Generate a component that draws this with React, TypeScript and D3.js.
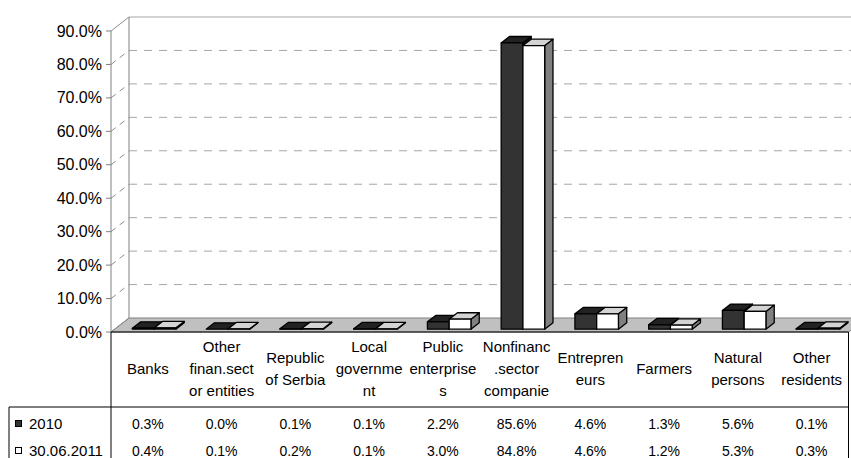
import React, { useRef, useEffect } from "react";
import { select, scaleLinear, scaleBand, range } from "d3";

const categories = [
  ["Banks"],
  ["Other", "finan.sect", "or entities"],
  ["Republic", "of Serbia"],
  ["Local", "governme", "nt"],
  ["Public", "enterprise", "s"],
  ["Nonfinanc", ".sector", "companie"],
  ["Entrepren", "eurs"],
  ["Farmers"],
  ["Natural", "persons"],
  ["Other", "residents"],
];
const series2010 = [0.3, 0.0, 0.1, 0.1, 2.2, 85.6, 4.6, 1.3, 5.6, 0.1];
const series2011 = [0.4, 0.1, 0.2, 0.1, 3.0, 84.8, 4.6, 1.2, 5.3, 0.3];
const seriesNames = ["2010", "30.06.2011"];
const yTicks = [0, 10, 20, 30, 40, 50, 60, 70, 80, 90];

const FONT = "'Liberation Sans', Arial, sans-serif";

function App() {
  const svgRef = useRef(null);

  useEffect(() => {
    const svg = select(svgRef.current);
    svg.selectAll("*").remove();

    const left = 111;
    const right = 848.5;
    const depthX = 18;
    const depthY = -14;

    const y = scaleLinear().domain([0, 90]).range([332, 31]);
    const x = scaleBand()
      .domain(range(categories.length))
      .range([left, right]);

    // back wall left edge
    svg.append("line")
      .attr("x1", left + depthX).attr("x2", left + depthX)
      .attr("y1", y(90) + depthY).attr("y2", y(0) + depthY)
      .attr("stroke", "#808080");

    // floor
    svg.append("polygon")
      .attr("points", [
        [left, y(0)],
        [left + depthX, y(0) + depthY],
        [right + depthX, y(0) + depthY],
        [right, y(0)],
      ].map((p) => p.join(",")).join(" "))
      .attr("fill", "#c0c0c0")
      .attr("stroke", "#808080");

    // gridlines on back wall and side wall
    yTicks.forEach((t) => {
      const yy = y(t);
      const solid = t === 0 || t === 90;
      if (t > 0) {
        svg.append("line")
          .attr("x1", left + depthX).attr("x2", right + depthX)
          .attr("y1", yy + depthY).attr("y2", yy + depthY)
          .attr("stroke", "#a6a6a6")
          .attr("stroke-width", 1)
          .attr("stroke-dasharray", solid ? null : "8,7");
      }
      svg.append("line")
        .attr("x1", left).attr("x2", left + depthX)
        .attr("y1", yy).attr("y2", yy + depthY)
        .attr("stroke", "#8c8c8c")
        .attr("stroke-dasharray", solid ? null : "6,5");
      svg.append("line")
        .attr("x1", left - 5).attr("x2", left)
        .attr("y1", yy).attr("y2", yy)
        .attr("stroke", "#808080");
      svg.append("text")
        .attr("x", 102).attr("y", yy)
        .attr("dy", "0.35em")
        .attr("text-anchor", "end")
        .attr("font-family", FONT)
        .attr("font-size", 16)
        .attr("fill", "#000")
        .text(t.toFixed(1) + "%");
    });

    // front axis
    svg.append("line")
      .attr("x1", left).attr("x2", left)
      .attr("y1", y(90)).attr("y2", y(0))
      .attr("stroke", "#808080");

    // bars
    const t1 = 0.2;
    const bdx = 8.3;
    const bdy = -6.4;
    const barW = x.bandwidth() * 0.295;
    const styles = [
      { front: "#333333", top: "#222222", side: "#1a1a1a" },
      { front: "#ffffff", top: "#d4d4d4", side: "#808080" },
    ];
    const drawBox = (x0, v, st) => {
      const yb = y(0) + depthY * t1;
      const yt = y(v) + depthY * t1;
      const g = svg.append("g")
        .attr("stroke", "#000")
        .attr("stroke-width", 1.3)
        .attr("stroke-linejoin", "round");
      g.append("polygon")
        .attr("points", [
          [x0 + barW, yt], [x0 + barW + bdx, yt + bdy],
          [x0 + barW + bdx, yb + bdy], [x0 + barW, yb],
        ].map((p) => p.join(",")).join(" "))
        .attr("fill", st.side);
      g.append("polygon")
        .attr("points", [
          [x0, yt], [x0 + barW, yt],
          [x0 + barW + bdx, yt + bdy], [x0 + bdx, yt + bdy],
        ].map((p) => p.join(",")).join(" "))
        .attr("fill", st.top);
      g.append("rect")
        .attr("x", x0).attr("y", yt)
        .attr("width", barW).attr("height", Math.max(0, yb - yt))
        .attr("fill", st.front);
    };
    categories.forEach((c, i) => {
      const center = x(i) + x.bandwidth() / 2;
      const start = center - barW + 6.3;
      drawBox(start, series2010[i], styles[0]);
      drawBox(start + barW, series2011[i], styles[1]);
    });

    // data table
    const tableTop = y(0);
    const rowLine = 407;
    const bottom = 470;
    const tbl = svg.append("g").attr("stroke", "#000").attr("stroke-width", 1);
    tbl.append("line").attr("x1", left).attr("x2", right).attr("y1", tableTop).attr("y2", tableTop);
    tbl.append("line").attr("x1", 9).attr("x2", right).attr("y1", rowLine).attr("y2", rowLine);
    tbl.append("line").attr("x1", left).attr("x2", left).attr("y1", tableTop).attr("y2", bottom);
    tbl.append("line").attr("x1", right).attr("x2", right).attr("y1", tableTop).attr("y2", bottom);
    tbl.append("line").attr("x1", 9).attr("x2", 9).attr("y1", rowLine).attr("y2", bottom);

    categories.forEach((lines, i) => {
      const cx = x(i) + x.bandwidth() / 2;
      const lh = 22;
      const y0 = 369 - ((lines.length - 1) * lh) / 2;
      const txt = svg.append("text")
        .attr("text-anchor", "middle")
        .attr("font-family", FONT)
        .attr("font-size", 15)
        .attr("fill", "#000");
      lines.forEach((l, k) => {
        txt.append("tspan")
          .attr("x", cx)
          .attr("y", y0 + k * lh)
          .attr("dy", "0.35em")
          .text(l);
      });
    });

    const rowsY = [424, 451];
    [series2010, series2011].forEach((vals, r) => {
      vals.forEach((v, i) => {
        svg.append("text")
          .attr("x", x(i) + x.bandwidth() / 2)
          .attr("y", rowsY[r])
          .attr("dy", "0.35em")
          .attr("text-anchor", "middle")
          .attr("font-family", FONT)
          .attr("font-size", 14)
          .attr("fill", "#000")
          .text(v.toFixed(1) + "%");
      });
      svg.append("rect")
        .attr("x", 15.5).attr("y", rowsY[r] - 3.5)
        .attr("width", 6).attr("height", 6)
        .attr("fill", r === 0 ? "#333333" : "#ffffff")
        .attr("stroke", "#000");
      svg.append("text")
        .attr("x", 29)
        .attr("y", rowsY[r])
        .attr("dy", "0.35em")
        .attr("font-family", FONT)
        .attr("font-size", 15)
        .attr("fill", "#000")
        .text(seriesNames[r]);
    });
  }, []);

  return (
    <svg
      ref={svgRef}
      width={851}
      height={458}
      style={{ position: "absolute", left: 0, top: 0, background: "#fff" }}
    ></svg>
  );
}

export default App;
